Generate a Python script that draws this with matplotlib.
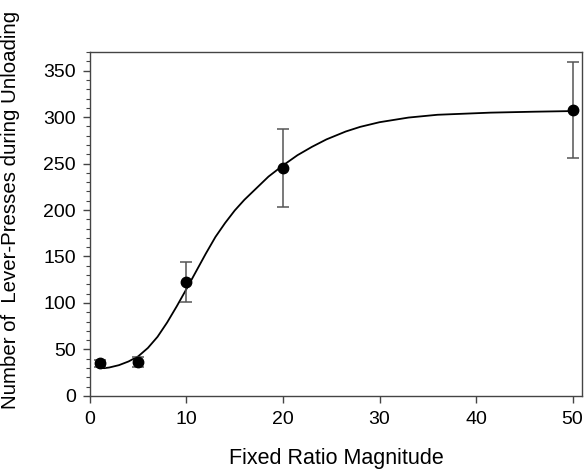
import matplotlib
matplotlib.use('Agg')
import matplotlib.pyplot as plt
from matplotlib.ticker import MultipleLocator

plt.rcParams['font.family'] = ['Liberation Sans', 'DejaVu Sans']

# measured means and error bars
fr_size = [1, 5, 10, 20, 50]
presses = [35, 36, 122.6, 245.6, 307.8]
press_err = [4, 5.5, 21.6, 42, 52]

# fitted curve, points
fit_x = [1, 1.5, 2, 3, 4, 5, 6, 7, 8, 9, 10, 11, 12, 13, 14, 15, 16, 17.25, 18.5,
         20, 21.5, 23, 24.5, 26.5, 28, 30, 33, 36, 41.5, 46, 50]
fit_y = [30, 29.8, 30.5, 33, 37, 42.5, 51.5, 63.5, 79, 96.5, 115, 134, 153, 171, 186,
         199.5, 211, 223.5, 236, 248, 259, 268, 276, 284.5, 289.5, 294.5, 299.5, 302.5,
         304.8, 305.8, 306.5]

fig = plt.figure(figsize=(5.84, 4.69), dpi=100)
ax = fig.add_axes([0.154, 0.156, 0.843, 0.733])

ax.plot(fit_x, fit_y, color='black', lw=1.3, zorder=2)
ax.errorbar(fr_size, presses, yerr=press_err, fmt='o', color='black',
            ecolor='#555555', elinewidth=1.1, capsize=4, capthick=1.1,
            markersize=7.5, zorder=3)

ax.set_xlim(0, 51)
ax.set_ylim(0, 370)
ax.xaxis.set_major_locator(MultipleLocator(10))
ax.yaxis.set_major_locator(MultipleLocator(50))
ax.yaxis.set_minor_locator(MultipleLocator(10))
ax.tick_params(axis='both', which='major', direction='out', length=5, width=1,
               color='#444444', labelsize=14, top=False, right=False)
ax.tick_params(axis='x', pad=6)
ax.tick_params(axis='y', pad=5)
ax.tick_params(axis='y', which='minor', direction='out', length=3, width=0.8,
               color='#444444', right=False)
for sp in ax.spines.values():
    sp.set_color('#444444')
    sp.set_linewidth(1)

ax.set_xlabel('Fixed Ratio Magnitude', fontsize=15.5, labelpad=14)
ax.set_ylabel('Number of  Lever-Presses during Unloading', fontsize=14.7)
ax.yaxis.set_label_coords(-0.142, 0.541)

fig.savefig('out.png', dpi=100)
